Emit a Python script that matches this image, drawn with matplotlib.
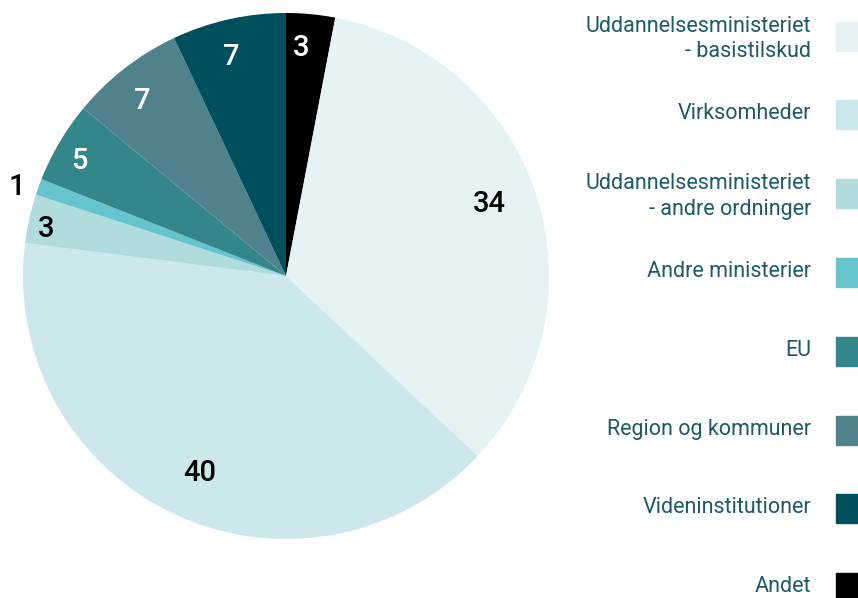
import numpy as np
import matplotlib.pyplot as plt

# legend order (top to bottom)
labels = ['Uddannelsesministeriet\n- basistilskud', 'Virksomheder',
          'Uddannelsesministeriet\n- andre ordninger', 'Andre ministerier',
          'EU', 'Region og kommuner', 'Videninstitutioner', 'Andet']
values = [34, 40, 3, 1, 5, 7, 7, 3]
colors = ['#e6f3f5', '#cde8ec', '#b0dcde', '#66c4cf',
          '#338689', '#4f828b', '#004f5c', '#000000']
label_col = ['black', 'black', 'black', 'black', 'white', 'white', 'white', 'white']
label_r = [0.82, 0.82, 0.93, 1.08, 0.90, 0.86, 0.86, 0.87]

plt.rcParams['font.family'] = ['Roboto', 'DejaVu Sans']
text_col = '#1b5a66'

fig = plt.figure(figsize=(8.58, 5.98), dpi=100)
ax = fig.add_axes([23/858, 59/598, 526/858, 526/598])

# "Andet" sits just right of 12 o'clock, the rest follow clockwise
vals = values[-1:] + values[:-1]
cols = colors[-1:] + colors[:-1]
wedges, _ = ax.pie(vals, colors=cols, startangle=90, counterclock=False,
                   radius=1, wedgeprops=dict(linewidth=0))
order = [7, 0, 1, 2, 3, 4, 5, 6]
for w, i in zip(wedges, order):
    ang = np.deg2rad((w.theta1 + w.theta2) / 2 + 1.5)
    r = label_r[i]
    c = label_col[i] if r < 1 else 'black'
    ax.text(r * np.cos(ang), r * np.sin(ang), str(values[i]), ha='center',
            va='center', fontsize=21, fontweight='medium', color=c)
ax.set_xlim(-1, 1)
ax.set_ylim(-1, 1)
ax.set_aspect('equal')
ax.axis('off')

# legend drawn by hand on the right
lax = fig.add_axes([0, 0, 1, 1])
lax.set_xlim(0, 858)
lax.set_ylim(598, 0)
lax.axis('off')
for k, (lab, col) in enumerate(zip(labels, colors)):
    yc = 36 + k * 78.8
    lax.add_patch(plt.Rectangle((836, yc - 14.5), 25, 29, color=col, clip_on=False))
    dy = 3 if '\n' in lab else -1
    lax.text(811, yc + dy, lab, ha='right', va='center', fontsize=15.5,
             color=text_col, linespacing=1.3)

fig.savefig('out.png', dpi=100)
